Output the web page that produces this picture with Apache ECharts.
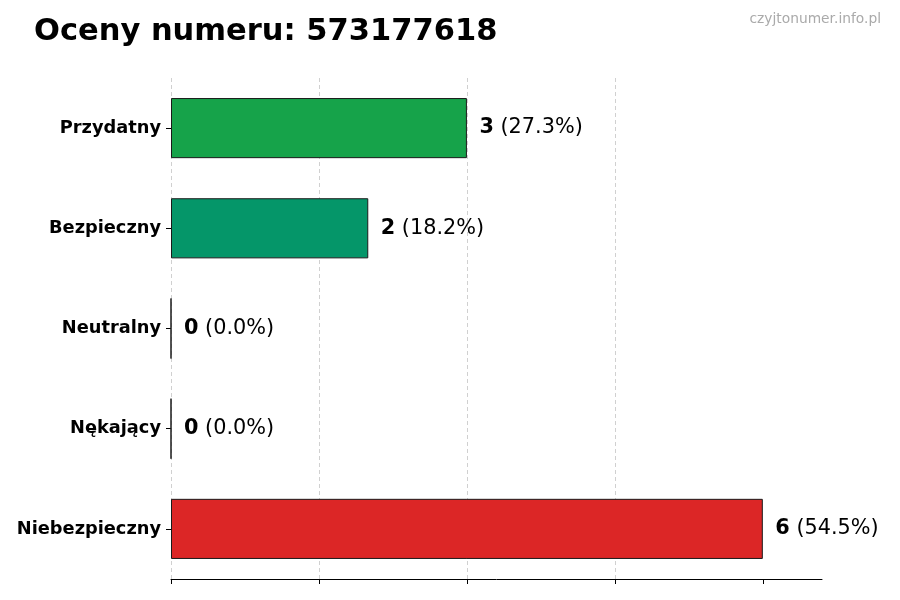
<!DOCTYPE html>
<html><head><meta charset="utf-8">
<script src="https://cdn.jsdelivr.net/npm/echarts@6/dist/echarts.min.js"></script>
<style>html,body{margin:0;padding:0;background:#fff}#c{width:900px;height:600px}</style>
</head><body><div id="c"></div>
<script>
const titleText = 'Oceny numeru: 573177618';
const watermark = 'czyjtonumer.info.pl';
const categories = ['Przydatny', 'Bezpieczny', 'Neutralny', 'Nękający', 'Niebezpieczny'];
const values = [3, 2, 0, 0, 6];
const colors = ['#16a34a', '#059669', '#6b7280', '#f97316', '#dc2626'];
const xTicks = [0, 1.5, 3, 4.5, 6];

const total = values.reduce((a, b) => a + b, 0);
const FONT = 'DejaVu Sans';
const chart = echarts.init(document.getElementById('c'), null, {renderer: 'canvas'});
chart.setOption({
  animation: false,
  backgroundColor: '#fff',
  title: [
    {text: titleText, left: 29, top: 12, textStyle: {fontFamily: FONT, fontSize: 30.5, fontWeight: 'bold', color: '#000'}},
    {text: watermark, right: 14, top: 7, textStyle: {fontFamily: FONT, fontSize: 13.8, fontWeight: 'normal', color: '#aaaaaa'}}
  ],
  grid: {left: 171, right: 78, top: 78, height: 501},
  xAxis: {
    type: 'value', min: 0, max: 6.6, interval: 1.5,
    axisLine: {show: true, lineStyle: {color: '#000', width: 1}},
    axisTick: {show: true, inside: false, length: 5, lineStyle: {color: '#000'}, customValues: xTicks},
    axisLabel: {show: false},
    splitLine: {show: true, showMaxLine: false, lineStyle: {color: '#d0d0d0', type: [4, 3], width: 1}}
  },
  yAxis: {
    type: 'category', data: categories, inverse: true,
    axisLine: {show: false},
    axisTick: {show: true, alignWithLabel: true, length: 5, lineStyle: {color: '#000'}},
    axisLabel: {fontFamily: FONT, fontSize: 17.8, fontWeight: 'bold', color: '#000', margin: 10},
    splitLine: {show: false}
  },
  series: [{
    type: 'bar',
    barWidth: '60%',
    data: values.map((v, i) => ({value: v, itemStyle: {color: colors[i]}})),
    itemStyle: {borderColor: '#1a1a1a', borderWidth: 1},
    label: {
      show: true, position: 'right', distance: 12.5,
      formatter: p => '{b|' + p.value + '}{n| (' + (p.value / total * 100).toFixed(1) + '%)}',
      rich: {
        b: {fontFamily: FONT, fontSize: 20.8, fontWeight: 'bold', color: '#000'},
        n: {fontFamily: FONT, fontSize: 20.8, fontWeight: 'normal', color: '#000'}
      }
    }
  }]
});
</script></body></html>
